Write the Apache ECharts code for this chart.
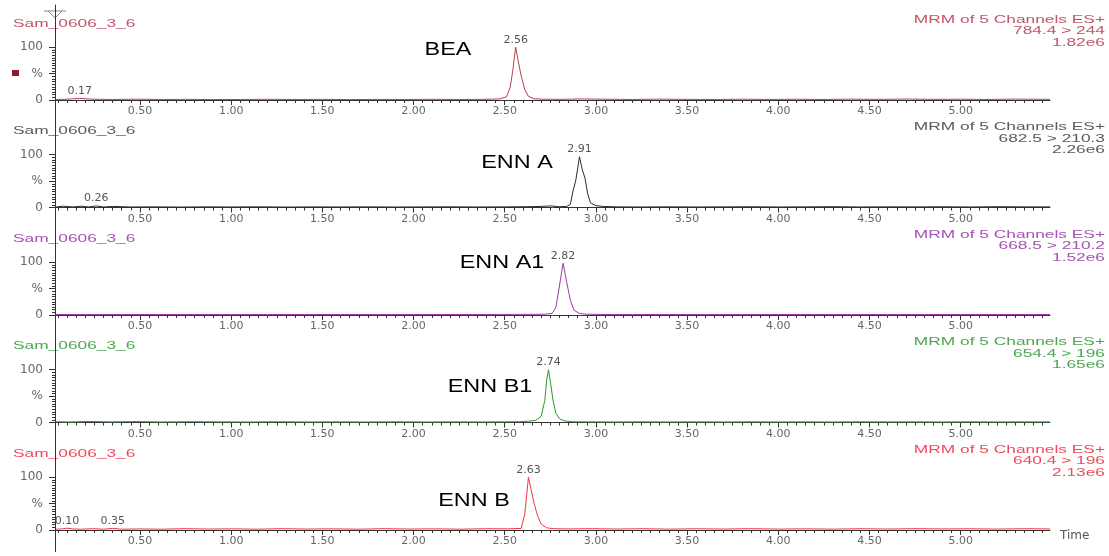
<!DOCTYPE html>
<html>
<head>
<meta charset="utf-8">
<title>MRM chromatograms</title>
<script src="https://cdn.jsdelivr.net/npm/echarts@6/dist/echarts.min.js"></script>
<style>
  html, body { margin: 0; padding: 0; background: #fff; }
  #chart { width: 1109px; height: 556px; }
</style>
</head>
<body>
<div id="chart"></div>
<script>
// retention time (min) and relative intensity (%) for each MRM channel
var beaTime = [0.04, 0.10, 0.17, 0.24, 0.35, 0.48, 0.62, 0.75, 0.90, 1.05, 1.20, 1.36, 1.50, 1.66, 1.80, 1.95, 2.10, 2.25, 2.38, 2.47, 2.51, 2.53, 2.545, 2.56, 2.575, 2.59, 2.61, 2.63, 2.66, 2.70, 2.80, 2.92, 3.05, 3.20, 3.35, 3.50, 3.66, 3.80, 3.95, 4.10, 4.25, 4.40, 4.55, 4.70, 4.85, 5.00, 5.15, 5.30, 5.45, 5.49]
var beaPct = [1, 1.5, 3, 1.5, 1, 1.5, 1, 1.2, 0.8, 1, 1.3, 1, 1.2, 0.8, 1.1, 1, 1.3, 1, 1.2, 2, 6, 24, 58, 100, 72, 46, 20, 7, 2.5, 1.5, 1.2, 2, 1.5, 1, 1.6, 1.2, 1, 1.5, 1.1, 1.4, 1, 1.6, 1.2, 1.8, 1.2, 1.5, 1, 1.7, 1.3, 1.3]
var beaPeaks = [0.17, 2.56]

var ennATime = [0.04, 0.08, 0.13, 0.18, 0.22, 0.26, 0.30, 0.35, 0.45, 0.58, 0.72, 0.86, 1.00, 1.15, 1.30, 1.45, 1.60, 1.75, 1.90, 2.05, 2.20, 2.35, 2.50, 2.62, 2.70, 2.75, 2.80, 2.84, 2.86, 2.875, 2.89, 2.91, 2.925, 2.94, 2.955, 2.97, 3.00, 3.04, 3.12, 3.25, 3.40, 3.55, 3.70, 3.85, 4.00, 4.15, 4.30, 4.45, 4.60, 4.75, 4.90, 5.05, 5.20, 5.35, 5.49]
var ennAPct = [1, 2.5, 1, 2.5, 1, 3, 1, 2, 1, 1.2, 0.8, 1.2, 1, 1.3, 0.8, 1.1, 1, 1.2, 0.9, 1.1, 1.3, 1, 1.2, 1.5, 2, 3, 1.5, 2, 6, 32, 52, 96, 72, 56, 26, 9, 3.5, 2, 1.2, 1, 1.3, 1, 1.2, 1.4, 1, 1.2, 1.5, 1, 1.3, 1.1, 1.4, 1, 1.5, 1.2, 1.2]
var ennAPeaks = [0.26, 2.91]

var ennA1Time = [0.04, 0.20, 0.40, 0.60, 0.80, 1.00, 1.20, 1.40, 1.60, 1.80, 2.00, 2.20, 2.40, 2.55, 2.65, 2.72, 2.76, 2.78, 2.80, 2.82, 2.84, 2.86, 2.88, 2.91, 2.95, 3.05, 3.20, 3.40, 3.60, 3.80, 4.00, 4.20, 4.40, 4.60, 4.80, 5.00, 5.20, 5.49]
var ennA1Pct = [1, 0.8, 1, 0.9, 1, 0.8, 1, 0.9, 1, 0.8, 1, 0.9, 1, 1.1, 1.2, 1.5, 3, 14, 55, 98, 62, 28, 9, 3, 1.5, 1, 0.9, 1, 0.8, 1, 0.9, 1, 0.8, 1, 0.9, 1, 0.9, 1]
var ennA1Peaks = [2.82]

var ennB1Time = [0.04, 0.12, 0.22, 0.34, 0.48, 0.62, 0.78, 0.94, 1.10, 1.26, 1.42, 1.58, 1.74, 1.90, 2.06, 2.22, 2.38, 2.50, 2.58, 2.63, 2.67, 2.70, 2.72, 2.73, 2.74, 2.75, 2.765, 2.78, 2.80, 2.83, 2.87, 2.95, 3.10, 3.25, 3.40, 3.55, 3.70, 3.85, 4.00, 4.15, 4.30, 4.45, 4.60, 4.75, 4.90, 5.05, 5.20, 5.35, 5.49]
var ennB1Pct = [1.5, 1, 2, 1.2, 1.8, 1, 1.5, 1.2, 1, 1.4, 1, 1.2, 1, 1.3, 1, 1.2, 1, 1.3, 1.5, 2.5, 4, 12, 42, 80, 100, 78, 42, 18, 7, 3, 1.5, 1.2, 1, 1.3, 1, 1.2, 1, 1.3, 1, 1.2, 1, 1.3, 1.1, 1.2, 1, 1.3, 1, 1.2, 1.1]
var ennB1Peaks = [2.74]

var ennBTime = [0.04, 0.07, 0.10, 0.13, 0.18, 0.24, 0.30, 0.35, 0.40, 0.50, 0.62, 0.75, 0.88, 1.00, 1.14, 1.28, 1.42, 1.56, 1.70, 1.84, 1.98, 2.12, 2.26, 2.40, 2.52, 2.59, 2.61, 2.63, 2.645, 2.66, 2.68, 2.70, 2.73, 2.77, 2.85, 2.98, 3.12, 3.26, 3.40, 3.55, 3.70, 3.85, 4.00, 4.15, 4.30, 4.45, 4.60, 4.75, 4.90, 5.05, 5.20, 5.35, 5.49]
var ennBPct = [1.5, 2, 3.5, 2, 1.5, 2.5, 1.5, 3, 1.5, 2, 1.5, 2.5, 1.8, 2.2, 1.5, 2.5, 1.8, 2.2, 1.5, 2.5, 1.8, 2.2, 1.5, 2.4, 2.2, 3, 30, 100, 76, 52, 27, 11, 4, 2.5, 2, 2.5, 1.8, 2.4, 1.6, 2.3, 1.8, 2.5, 1.7, 2.2, 1.6, 2.4, 1.8, 2.5, 2, 2.3, 1.7, 2.4, 2]
var ennBPeaks = [0.10, 0.35, 2.63]

var compounds = ['BEA', 'ENN A', 'ENN A1', 'ENN B1', 'ENN B']
var sampleName = 'Sam_0606_3_6'
var channelTitle = 'MRM of 5 Channels ES+'
var transitions = ['784.4 > 244', '682.5 > 210.3', '668.5 > 210.2', '654.4 > 196', '640.4 > 196']
var intensities = ['1.82e6', '2.26e6', '1.52e6', '1.65e6', '2.13e6']
var timeTicks = [0.5, 1.0, 1.5, 2.0, 2.5, 3.0, 3.5, 4.0, 4.5, 5.0]
var pctTicks = [0, 50, 100]

var traces = [
  { t: beaTime, p: beaPct, peaks: beaPeaks, line: '#b8404f', text: '#c0566a' },
  { t: ennATime, p: ennAPct, peaks: ennAPeaks, line: '#2b2b2b', text: '#5a5a5a' },
  { t: ennA1Time, p: ennA1Pct, peaks: ennA1Peaks, line: '#9a3aa6', text: '#a552b4' },
  { t: ennB1Time, p: ennB1Pct, peaks: ennB1Peaks, line: '#2e962e', text: '#4ea64e' },
  { t: ennBTime, p: ennBPct, peaks: ennBPeaks, line: '#f03646', text: '#f04a5a' }
]
// where the compound names sit (pixels)
var namePos = [[448, 50], [517, 163], [502, 263], [490, 387], [474, 501]]

var chart = echarts.init(document.getElementById('chart'))

var PANEL_STEP = 107.5
var PLOT_H = 95      // 0 .. Y_MAX
var Y_MAX = 180
var numFont = 'DejaVu Sans'
var hdrFont = 'Liberation Sans'

var minorX = []
for (var k = 1; k <= 109; k++) minorX.push(+(k * 0.05).toFixed(2))
var minorY = []
for (var m = 5; m < 100; m += 5) minorY.push(m)

var grids = [], xAxes = [], yAxes = [], series = [], graphics = []

// one continuous left axis line through all panels
graphics.push({
  type: 'line', shape: { x1: 55.5, y1: 8, x2: 55.5, y2: 552 },
  style: { stroke: '#333', lineWidth: 1 }, z: 0
})

traces.forEach(function (tr, i) {
  var top = 5 + i * PANEL_STEP
  grids.push({ left: 55, right: 59, top: top, height: PLOT_H })

  xAxes.push({
    type: 'value', gridIndex: i, position: 'bottom', min: 0.034, max: 5.49,
    axisLine: { onZero: false, lineStyle: { color: '#333', width: 1 } },
    axisTick: { customValues: timeTicks, length: 5, lineStyle: { color: '#333' } },
    axisLabel: {
      customValues: timeTicks, margin: 6, color: '#666', fontSize: 11, fontFamily: numFont,
      formatter: function (v) { return v.toFixed(2) }
    },
    splitLine: { show: false },
    name: i === 4 ? 'Time' : '',
    nameLocation: 'end', nameGap: 10,
    nameTextStyle: { color: '#555', fontSize: 12, fontFamily: numFont, verticalAlign: 'top' }
  })
  xAxes.push({
    type: 'value', gridIndex: i, position: 'bottom', min: 0.034, max: 5.49,
    axisLine: { show: false, onZero: false },
    axisTick: { customValues: minorX, length: 3, lineStyle: { color: '#333' } },
    axisLabel: { show: false },
    splitLine: { show: false }
  })

  yAxes.push({
    type: 'value', gridIndex: i, position: 'left', min: 0, max: Y_MAX,
    axisLine: { show: true, lineStyle: { color: '#333', width: 1 } },
    axisTick: { show: true, customValues: pctTicks, length: 6, lineStyle: { color: '#333' } },
    axisLabel: {
      customValues: pctTicks, margin: 12, color: '#666', fontSize: 12, fontFamily: numFont,
      formatter: function (v) { return v === 50 ? '%' : String(v) }
    },
    splitLine: { show: false }
  })
  yAxes.push({
    type: 'value', gridIndex: i, position: 'left', min: 0, max: Y_MAX,
    axisLine: { show: false },
    axisTick: { show: true, customValues: minorY, length: 3, lineStyle: { color: '#333' } },
    axisLabel: { show: false },
    splitLine: { show: false }
  })

  var data = tr.t.map(function (t, j) {
    if (tr.peaks.indexOf(t) >= 0) {
      return { value: [t, tr.p[j]], label: { show: true } }
    }
    return [t, tr.p[j]]
  })

  series.push({
    type: 'line', name: compounds[i], xAxisIndex: 2 * i, yAxisIndex: 2 * i,
    data: data, showSymbol: true, symbol: 'circle', symbolSize: 0,
    lineStyle: { color: tr.line, width: 1 },
    itemStyle: { color: tr.line },
    label: {
      show: false, position: 'top', distance: 2, color: '#555', fontSize: 11, fontFamily: numFont,
      formatter: function (p) { return p.value[0].toFixed(2) }
    },
    emphasis: { disabled: true },
    z: 3
  })

  // sample name on the left, channel info on the right
  graphics.push({
    type: 'text', x: 13, y: top + 19, scaleX: 1.65,
    style: { text: sampleName, fill: tr.text, font: '10.5px ' + hdrFont, textAlign: 'left', textVerticalAlign: 'middle' }
  })
  var lines = [channelTitle, transitions[i], intensities[i]]
  lines.forEach(function (s, n) {
    graphics.push({
      type: 'text', x: 1105, y: top + 15 + n * 11.5, scaleX: 1.65,
      style: { text: s, fill: tr.text, font: '10.5px ' + hdrFont, textAlign: 'right', textVerticalAlign: 'middle' }
    })
  })
  graphics.push({
    type: 'text', x: namePos[i][0], y: namePos[i][1], scaleX: 1.3,
    style: { text: compounds[i], fill: '#000', font: '18px ' + hdrFont, textAlign: 'center', textVerticalAlign: 'middle' }
  })
})

// little marker square and the cursor glyph of the first trace
graphics.push({ type: 'rect', shape: { x: 12, y: 70, width: 7, height: 6 }, style: { fill: '#8b1c2c' } })
graphics.push({
  type: 'polyline', shape: { points: [[44, 11], [66, 11]] },
  style: { stroke: '#888', lineWidth: 1, fill: null }
})
graphics.push({
  type: 'polyline', shape: { points: [[48, 11], [55, 18], [62, 11]] },
  style: { stroke: '#888', lineWidth: 1, fill: null }
})

chart.setOption({
  animation: false,
  backgroundColor: '#fff',
  grid: grids,
  xAxis: xAxes,
  yAxis: yAxes,
  series: series,
  graphic: graphics
})
</script>
</body>
</html>
